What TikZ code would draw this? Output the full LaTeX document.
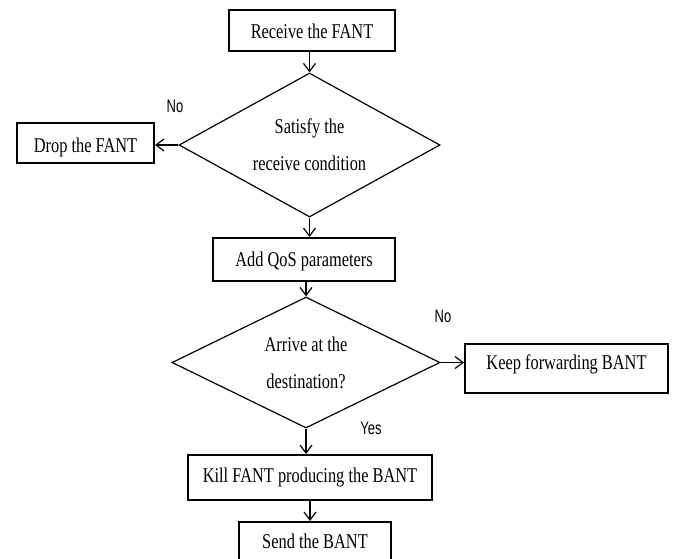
\documentclass[tikz,border=0pt]{standalone}
\usepackage{fontspec}
\setmainfont{Liberation Serif}[FakeStretch=0.78]
\newfontfamily\labelfont{Liberation Sans}[FakeStretch=0.72]
\usetikzlibrary{shapes.geometric,arrows.meta}

\begin{document}
\begin{tikzpicture}[x=1pt,y=-1pt,
  stepbox/.style={draw, line width=2pt, inner sep=0pt,
    text height=14pt, text depth=0pt,
    font=\fontsize{21}{24}\selectfont},
  decision/.style={draw, diamond, line width=1.2pt, inner sep=0pt,
    shape aspect=1.8, align=center,
    font=\fontsize{21}{37}\selectfont},
  flow/.style={-{Straight Barb[length=8pt,width=12pt,line width=1.2pt]}, line width=1.2pt},
  branch/.style={inner sep=0pt, font=\labelfont\fontsize{18}{18}\selectfont}]

\useasboundingbox (0,0) rectangle (676,558);
\clip (0,0) rectangle (676,558);

% process steps
\node[stepbox, minimum width=166pt, minimum height=41pt, text height=15pt]
  (recv) at (312,30.5) {Receive the FANT};
\node[decision, minimum width=261pt, minimum height=144pt]
  (cond1) at (309.5,145) {Satisfy the\\receive condition};
\node[stepbox, minimum width=137pt, minimum height=40pt, text height=18pt]
  (drop) at (85.5,143) {Drop the FANT};
\node[stepbox, minimum width=182pt, minimum height=43pt]
  (qos) at (304,259.5) {Add QoS parameters};
\node[decision, minimum width=268pt, minimum height=131pt]
  (cond2) at (306,362.5) {Arrive at the\\destination?};
\node[stepbox, minimum width=203pt, minimum height=49pt, text depth=12pt]
  (keep) at (566.5,368.5) {Keep forwarding BANT};
\node[stepbox, minimum width=244pt, minimum height=45pt, text depth=5pt]
  (kill) at (310,477.5) {Kill FANT producing the BANT};
\node[stepbox, minimum width=152pt, minimum height=44pt, text depth=5pt]
  (send) at (315,544) {Send the BANT};

% branch labels
\node[branch] (no1) at (175,106) {No};
\node[branch] (no2) at (443,316) {No};
\node[branch] (yes) at (371,428) {Yes};

% connectors
\draw[flow] (cond1.north |- recv.south) -- (cond1.north);
\draw[flow] (cond1.west) -- (cond1.west -| drop.east);
\draw[flow] (cond1.south) -- (cond1.south |- qos.north);
\draw[flow] (cond2.north |- qos.south) -- (cond2.north);
\draw[flow] (cond2.east) -- (cond2.east -| keep.west);
\draw[flow] (cond2.south) -- (cond2.south |- kill.north);
\draw[flow] (kill.south) -- (kill.south |- send.north);
\end{tikzpicture}
\end{document}
